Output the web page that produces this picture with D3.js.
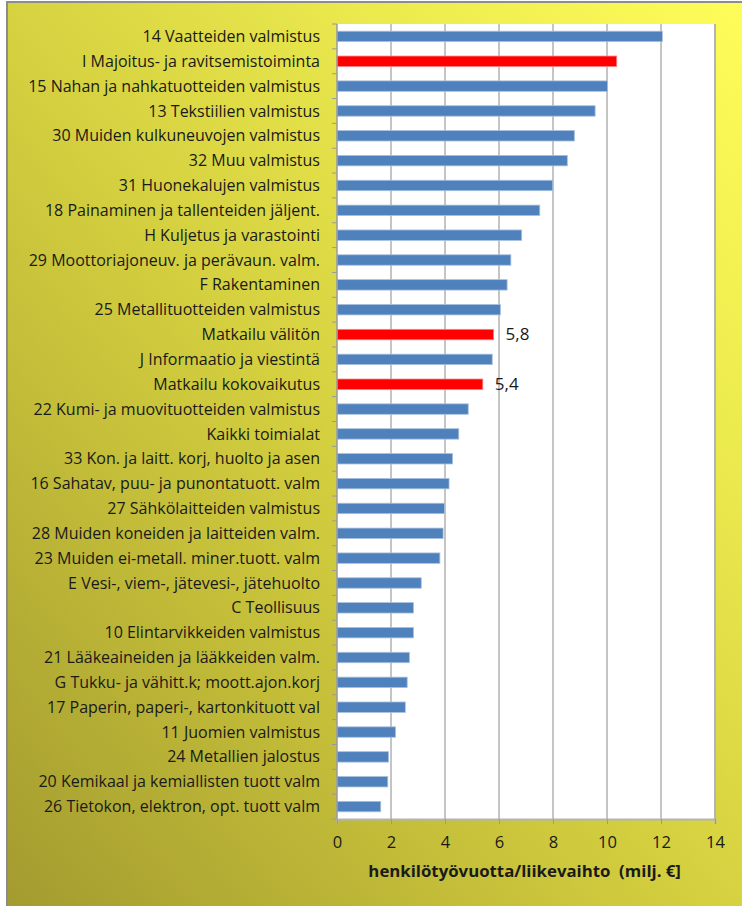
<!DOCTYPE html>
<html>
<head>
<meta charset="utf-8">
<script src="https://cdn.jsdelivr.net/npm/d3@7"></script>
<style>
  body { margin: 0; background: #fff; }
  svg { display: block; }
</style>
</head>
<body>
<div id="chart"></div>
<script>
const categories = [
  "14 Vaatteiden valmistus",
  "I Majoitus- ja ravitsemistoiminta",
  "15 Nahan ja nahkatuotteiden valmistus",
  "13 Tekstiilien valmistus",
  "30 Muiden kulkuneuvojen valmistus",
  "32 Muu valmistus",
  "31 Huonekalujen valmistus",
  "18 Painaminen ja tallenteiden jäljent.",
  "H Kuljetus ja varastointi",
  "29 Moottoriajoneuv. ja perävaun. valm.",
  "F Rakentaminen",
  "25 Metallituotteiden valmistus",
  "Matkailu välitön",
  "J Informaatio ja viestintä",
  "Matkailu kokovaikutus",
  "22 Kumi- ja muovituotteiden valmistus",
  "Kaikki toimialat",
  "33 Kon. ja laitt. korj, huolto ja asen",
  "16 Sahatav, puu- ja punontatuott. valm",
  "27 Sähkölaitteiden valmistus",
  "28 Muiden koneiden ja laitteiden valm.",
  "23 Muiden ei-metall. miner.tuott. valm",
  "E Vesi-, viem-, jätevesi-, jätehuolto",
  "C Teollisuus",
  "10 Elintarvikkeiden valmistus",
  "21 Lääkeaineiden ja lääkkeiden valm.",
  "G Tukku- ja vähitt.k; moott.ajon.korj",
  "17 Paperin, paperi-, kartonkituott val",
  "11 Juomien valmistus",
  "24 Metallien jalostus",
  "20 Kemikaal ja kemiallisten tuott valm",
  "26 Tietokon, elektron, opt. tuott valm"
];
const values = [
  12.05, 10.36, 10.02, 9.56, 8.79, 8.53, 7.99, 7.51, 6.84, 6.44, 6.30, 6.05,
  5.8, 5.75, 5.4, 4.86, 4.51, 4.28, 4.15, 3.98, 3.93, 3.81, 3.12, 2.83,
  2.83, 2.68, 2.6, 2.53, 2.17, 1.91, 1.88, 1.62
];
// highlighted (tourism) rows and their value labels
const highlighted = ["I Majoitus- ja ravitsemistoiminta", "Matkailu välitön", "Matkailu kokovaikutus"];
const labelled = { "Matkailu välitön": "5,8", "Matkailu kokovaikutus": "5,4" };
const xTicks = [0, 2, 4, 6, 8, 10, 12, 14];
const xTitle = "henkilötyövuotta/liikevaihto  (milj. €]";

const data = categories.map((c, i) => ({ name: c, value: values[i] }));

const W = 742, H = 906;
const margin = { top: 24, right: 27, bottom: 87, left: 337 };
const width = W - margin.left - margin.right;
const height = H - margin.top - margin.bottom;
const font = "'Open Sans', sans-serif";

const svg = d3.select("#chart").append("svg")
  .attr("width", W)
  .attr("height", H);

const defs = svg.append("defs");
const grad = defs.append("linearGradient")
  .attr("id", "bg")
  .attr("x1", 0).attr("y1", 1).attr("x2", 1).attr("y2", 0);
grad.append("stop").attr("offset", "0%").attr("stop-color", "#a39b2f");
grad.append("stop").attr("offset", "45%").attr("stop-color", "#d2cd3e");
grad.append("stop").attr("offset", "75%").attr("stop-color", "#eceb4e");
grad.append("stop").attr("offset", "100%").attr("stop-color", "#fffd5a");

svg.append("rect")
  .attr("x", 7).attr("y", 2)
  .attr("width", W).attr("height", H)
  .attr("fill", "url(#bg)")
  .attr("stroke", "#8c8c8c")
  .attr("stroke-width", 2);

const g = svg.append("g")
  .attr("transform", `translate(${margin.left},${margin.top})`);

const x = d3.scaleLinear().domain([0, 14]).range([0, width]);
const y = d3.scaleBand().domain(categories).range([0, height]).paddingInner(0.58).paddingOuter(0.29);

// plot area
g.append("rect")
  .attr("width", width).attr("height", height)
  .attr("fill", "#fff");

// gridlines
g.append("g")
  .selectAll("line")
  .data(xTicks.slice(1, -1))
  .join("line")
  .attr("x1", d => x(d)).attr("x2", d => x(d))
  .attr("y1", 0).attr("y2", height)
  .attr("stroke", "#8a8a8a")
  .attr("stroke-width", 1);

// right frame
g.append("line")
  .attr("x1", width).attr("x2", width)
  .attr("y1", 0).attr("y2", height)
  .attr("stroke", "#b4b4b4").attr("stroke-width", 2);

// bars
g.append("g")
  .selectAll("rect")
  .data(data)
  .join("rect")
  .attr("x", 0)
  .attr("y", d => y(d.name))
  .attr("width", d => x(d.value))
  .attr("height", y.bandwidth())
  .attr("fill", d => highlighted.includes(d.name) ? "#ff0000" : "#4f81bd")
  .attr("stroke", d => highlighted.includes(d.name) ? "#ff8080" : "#a9c0dd")
  .attr("stroke-width", 0.8);

// value labels
g.append("g")
  .selectAll("text")
  .data(data.filter(d => labelled[d.name]))
  .join("text")
  .attr("x", d => x(d.value) + 12)
  .attr("y", d => y(d.name) + y.bandwidth() / 2)
  .attr("dy", "0.35em")
  .attr("font-family", font)
  .attr("font-size", 17)
  .attr("fill", "#1a1a1a")
  .text(d => labelled[d.name]);

// y axis: tick marks between bands + labels
const step = y.step();
const yAxis = g.append("g");
yAxis.append("line")
  .attr("x1", 0).attr("x2", 0).attr("y1", 0).attr("y2", height)
  .attr("stroke", "#9a9a9a").attr("stroke-width", 1.5);
yAxis.selectAll("line.tick")
  .data(d3.range(categories.length + 1))
  .join("line")
  .attr("class", "tick")
  .attr("x1", -5).attr("x2", 0)
  .attr("y1", i => i * step).attr("y2", i => i * step)
  .attr("stroke", "#9a9a9a");
yAxis.selectAll("text")
  .data(categories)
  .join("text")
  .attr("x", -17)
  .attr("y", d => y(d) + y.bandwidth() / 2)
  .attr("dy", "0.35em")
  .attr("text-anchor", "end")
  .attr("font-family", font)
  .attr("font-size", 16)
  .attr("fill", "#1a1a1a")
  .text(d => d);

// x axis
const xAxis = g.append("g")
  .attr("transform", `translate(0,${height})`)
  .call(d3.axisBottom(x).tickValues(xTicks).tickSize(5).tickPadding(12).tickFormat(d3.format("d")));
xAxis.select(".domain").attr("stroke", "#b4b4b4").attr("stroke-width", 2);
xAxis.selectAll(".tick line").attr("stroke", "#9a9a9a");
xAxis.selectAll(".tick text")
  .attr("font-family", font)
  .attr("font-size", 16.5)
  .attr("fill", "#1a1a1a");

g.append("text")
  .attr("x", x(6.95))
  .attr("y", height + 58)
  .attr("text-anchor", "middle")
  .attr("font-family", font)
  .attr("font-weight", "bold")
  .attr("font-size", 16.8)
  .attr("fill", "#1a1a1a")
  .style("white-space", "pre")
  .text(xTitle);
</script>
</body>
</html>
